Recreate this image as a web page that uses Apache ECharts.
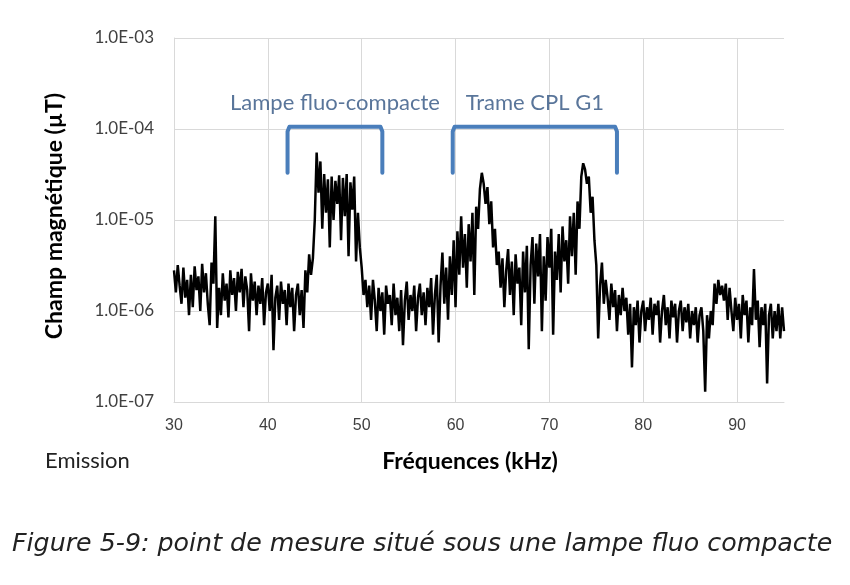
<!DOCTYPE html>
<html><head><meta charset="utf-8">
<script src="https://cdn.jsdelivr.net/npm/echarts@6/dist/echarts.min.js"></script>
<style>html,body{margin:0;padding:0;background:#fff}#c{width:850px;height:585px}</style>
</head><body><div id="c"></div>
<script>
// x axis: frequency (kHz) sampled every 0.2 kHz from 30 to 95
const freqStart = 30;
const freqStep = 0.2;
const xTicks = [30, 40, 50, 60, 70, 80, 90];
const yTicks = [1e-7, 1e-6, 1e-5, 1e-4, 1e-3];
// Champ magnétique (µT), 5 samples per kHz row
const fieldValues = [
/*30*/ 2.8e-6,1.6e-6,3.2e-6,1.9e-6,1.2e-6,
/*31*/ 3.0e-6,1.4e-6,2.2e-6,0.9e-6,2.5e-6,
/*32*/ 1.1e-6,3.1e-6,1.7e-6,2.4e-6,1.0e-6,
/*33*/ 3.3e-6,1.6e-6,2.6e-6,1.2e-6,0.7e-6,
/*34*/ 3.4e-6,2.0e-6,1.1e-5,0.65e-6,1.8e-6,
/*35*/ 0.9e-6,2.6e-6,1.3e-6,2.0e-6,0.85e-6,
/*36*/ 2.8e-6,1.5e-6,2.3e-6,1.0e-6,2.7e-6,
/*37*/ 1.6e-6,2.9e-6,1.1e-6,2.4e-6,1.7e-6,
/*38*/ 0.6e-6,2.6e-6,1.3e-6,2.1e-6,0.9e-6,
/*39*/ 1.9e-6,1.2e-6,2.3e-6,0.7e-6,1.6e-6,
/*40*/ 2.0e-6,1.0e-6,2.5e-6,0.37e-6,1.4e-6,
/*41*/ 1.9e-6,0.8e-6,2.1e-6,1.2e-6,1.7e-6,
/*42*/ 0.7e-6,2.0e-6,1.1e-6,1.8e-6,0.6e-6,
/*43*/ 1.5e-6,2.0e-6,0.9e-6,1.7e-6,0.65e-6,
/*44*/ 2.8e-6,1.6e-6,4.2e-6,2.5e-6,3.8e-6,
/*45*/ 1.0e-5,5.5e-5,2.0e-5,4.4e-5,8e-6,
/*46*/ 3.2e-5,1.2e-5,2.8e-5,5e-6,3.0e-5,
/*47*/ 1.0e-5,2.7e-5,1.5e-5,3.1e-5,6e-6,
/*48*/ 2.9e-5,1.1e-5,3.2e-5,4e-6,2.6e-5,
/*49*/ 1.3e-5,3.0e-5,3.5e-6,1.2e-5,5e-6,
/*50*/ 3e-6,1.5e-6,2.2e-6,1.1e-6,1.9e-6,
/*51*/ 0.8e-6,2.2e-6,1.3e-6,0.6e-6,1.8e-6,
/*52*/ 1.0e-6,1.6e-6,0.55e-6,1.9e-6,1.2e-6,
/*53*/ 1.5e-6,0.7e-6,2.0e-6,0.9e-6,1.4e-6,
/*54*/ 0.6e-6,1.7e-6,0.42e-6,1.3e-6,2.1e-6,
/*55*/ 0.8e-6,1.5e-6,1.0e-6,1.9e-6,0.6e-6,
/*56*/ 1.4e-6,2.0e-6,0.9e-6,1.6e-6,0.7e-6,
/*57*/ 1.8e-6,1.1e-6,2.3e-6,0.55e-6,1.5e-6,
/*58*/ 2.5e-6,0.45e-6,1.9e-6,4.4e-6,1.2e-6,
/*59*/ 3.0e-6,0.8e-6,4.0e-6,1.5e-6,6e-6,
/*60*/ 1.1e-6,7.5e-6,2.5e-6,1.1e-5,3.0e-6,
/*61*/ 7e-6,1.8e-6,9e-6,3.5e-6,1.2e-5,
/*62*/ 1.5e-6,1.4e-5,8e-6,2.2e-5,3.3e-5,
/*63*/ 2.5e-5,1.5e-5,2.3e-5,9e-6,1.6e-5,
/*64*/ 5e-6,8e-6,3.2e-6,4.5e-6,1.8e-6,
/*65*/ 3.8e-6,1.1e-6,2.8e-6,4.8e-6,1.5e-6,
/*66*/ 3.5e-6,0.9e-6,4.2e-6,2.0e-6,3.0e-6,
/*67*/ 0.7e-6,4.5e-6,1.6e-6,5.2e-6,0.38e-6,
/*68*/ 3.2e-6,6.5e-6,1.2e-6,5.5e-6,2.4e-6,
/*69*/ 7e-6,0.6e-6,4.0e-6,1.3e-6,6.5e-6,
/*70*/ 3.0e-6,8e-6,0.55e-6,4.5e-6,2.2e-6,
/*71*/ 7e-6,1.6e-6,8.5e-6,3.5e-6,6e-6,
/*72*/ 2.0e-6,1.1e-5,4e-6,1.2e-5,2.5e-6,
/*73*/ 1.6e-5,8e-6,3.0e-5,4.2e-5,3.6e-5,
/*74*/ 2.5e-5,3.0e-5,1.2e-5,1.8e-5,6e-6,
/*75*/ 3.2e-6,0.5e-6,1.9e-6,3.4e-6,1.2e-6,
/*76*/ 2.2e-6,1.4e-6,0.8e-6,2.0e-6,1.1e-6,
/*77*/ 1.7e-6,0.6e-6,1.5e-6,0.9e-6,1.8e-6,
/*78*/ 1.0e-6,1.4e-6,0.55e-6,1.2e-6,0.24e-6,
/*79*/ 1.1e-6,0.7e-6,1.3e-6,0.45e-6,1.0e-6,
/*80*/ 1.3e-6,0.6e-6,1.1e-6,0.8e-6,1.4e-6,
/*81*/ 0.55e-6,1.2e-6,0.9e-6,1.3e-6,0.45e-6,
/*82*/ 1.0e-6,1.5e-6,0.7e-6,1.1e-6,0.5e-6,
/*83*/ 1.3e-6,0.85e-6,1.2e-6,0.45e-6,1.0e-6,
/*84*/ 1.3e-6,0.6e-6,1.1e-6,0.75e-6,1.2e-6,
/*85*/ 0.5e-6,1.0e-6,0.7e-6,1.1e-6,0.45e-6,
/*86*/ 0.9e-6,1.1e-6,0.6e-6,0.13e-6,0.9e-6,
/*87*/ 0.5e-6,1.0e-6,0.7e-6,2.0e-6,1.2e-6,
/*88*/ 2.2e-6,1.5e-6,1.9e-6,1.3e-6,2.0e-6,
/*89*/ 0.8e-6,1.8e-6,1.0e-6,0.6e-6,1.4e-6,
/*90*/ 0.8e-6,1.2e-6,0.5e-6,1.5e-6,0.9e-6,
/*91*/ 1.3e-6,0.45e-6,1.1e-6,0.7e-6,2.9e-6,
/*92*/ 0.8e-6,1.3e-6,0.4e-6,1.1e-6,0.7e-6,
/*93*/ 1.2e-6,0.16e-6,0.9e-6,1.2e-6,0.5e-6,
/*94*/ 1.0e-6,0.6e-6,1.2e-6,0.5e-6,1.1e-6,
/*95*/ 0.6e-6
];
// annotation brackets (data coordinates)
const bracketLampX = [42.1, 42.1, 42.3, 52.0, 52.2, 52.2];
const bracketLampY = [3.3e-5, 9.4e-5, 1.06e-4, 1.06e-4, 9.4e-5, 3.3e-5];
const bracketCplX  = [59.7, 59.7, 59.9, 77.0, 77.2, 77.2];
const bracketCplY  = [3.3e-5, 9.4e-5, 1.06e-4, 1.06e-4, 9.4e-5, 3.3e-5];
const annotLabels = ['Lampe fluo-compacte', 'Trame CPL G1'];
const annotX = [47.15, 68.45];
const annotY = [1.94e-4, 1.94e-4];

const lineData = fieldValues.map((v, i) => [+(freqStart + i * freqStep).toFixed(1), v]);
const zip = (xs, ys) => xs.map((x, i) => [x, ys[i]]);
const fmtE = v => { const e = Math.round(Math.log10(v)); return '1.0E' + (e < 0 ? '-' : '+') + String(Math.abs(e)).padStart(2, '0'); };
const gridColor = '#d9d9d9';
const blue = '#4a7ebb';

const chart = echarts.init(document.getElementById('c'), null, {renderer: 'canvas'});
chart.setOption({
  animation: false,
  backgroundColor: '#fff',
  grid: {left: 174, right: 66, top: 38, bottom: 183, containLabel: false},
  xAxis: {
    type: 'value', min: 30, max: 95, interval: 10,
    name: 'Fréquences (kHz)', nameLocation: 'middle', nameGap: 48,
    nameTextStyle: {fontFamily: 'Lato', fontWeight: 'bold', fontSize: 23, color: '#000', padding: [0, 18, 0, 0]},
    axisLine: {show: true, lineStyle: {color: gridColor, width: 1}},
    axisTick: {show: false},
    axisLabel: {showMaxLabel: false, fontFamily: 'Liberation Sans', fontSize: 16, color: '#404040', margin: 16,
      formatter: v => (xTicks.includes(v) ? String(v) : '')},
    splitLine: {show: true, showMinLine: false, showMaxLine: false, lineStyle: {color: gridColor, width: 1}}
  },
  yAxis: {
    type: 'log', logBase: 10, min: yTicks[0], max: yTicks[yTicks.length - 1],
    name: 'Champ magnétique (µT)', nameLocation: 'middle', nameGap: 108, nameRotate: 90,
    nameTextStyle: {fontFamily: 'Lato', fontWeight: 'bold', fontSize: 23, color: '#000', padding: [0, 0, 0, 8]},
    axisLine: {show: true, lineStyle: {color: gridColor, width: 1}},
    axisTick: {show: false},
    axisLabel: {fontFamily: 'Lato', fontSize: 17, color: '#404040', margin: 20, formatter: fmtE},
    splitLine: {show: true, lineStyle: {color: gridColor, width: 1}}
  },
  series: [
    {type: 'line', data: lineData, symbol: 'none', lineStyle: {color: '#000', width: 2.5}, z: 3},
    {type: 'line', data: zip(bracketLampX, bracketLampY), symbol: 'none',
      lineStyle: {color: blue, width: 4, cap: 'round', join: 'round'}, z: 4},
    {type: 'line', data: zip(bracketCplX, bracketCplY), symbol: 'none',
      lineStyle: {color: blue, width: 4, cap: 'round', join: 'round'}, z: 4},
    {type: 'scatter', symbolSize: 0, z: 5,
      data: annotLabels.map((t, i) => ({value: [annotX[i], annotY[i]], name: t})),
      label: {show: true, position: 'inside', formatter: p => p.name,
        fontFamily: 'Lato', fontSize: 22, color: '#2f5381'}}
  ],
  graphic: [
    {type: 'text', left: 45, top: 450, style: {text: 'Emission', fontFamily: 'Lato', fontSize: 22, fill: '#222'}},
    {type: 'text', left: 12, top: 532, style: {text: 'Figure 5-9: point de mesure situé sous une lampe fluo compacte',
      fontFamily: 'DejaVu Sans', fontStyle: 'italic', fontSize: 25.3, fill: '#222'}}
  ]
});
</script></body></html>
